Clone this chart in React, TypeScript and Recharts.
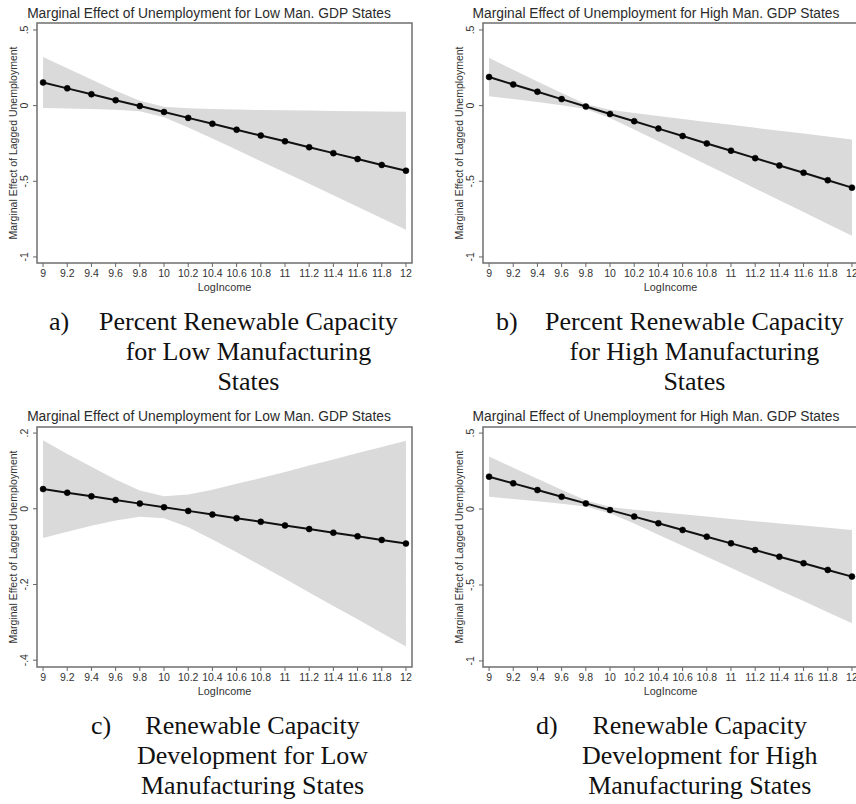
import React from "react";
import { ComposedChart, Area, Line, XAxis, YAxis, ReferenceArea } from "recharts";

// ---- data ----
const xs = [9, 9.2, 9.4, 9.6, 9.8, 10, 10.2, 10.4, 10.6, 10.8, 11, 11.2, 11.4, 11.6, 11.8, 12];
const xTickLabels = ["9", "9.2", "9.4", "9.6", "9.8", "10", "10.2", "10.4", "10.6", "10.8", "11", "11.2", "11.4", "11.6", "11.8", "12"];

// a) Percent Renewable Capacity, Low Manufacturing
const aEffect = [0.153, 0.114, 0.075, 0.036, -0.003, -0.042, -0.081, -0.12, -0.159, -0.198, -0.236, -0.275, -0.314, -0.353, -0.392, -0.43];
const aUpper = [0.322, 0.247, 0.172, 0.099, 0.032, -0.007, -0.018, -0.023, -0.026, -0.029, -0.03, -0.033, -0.035, -0.037, -0.039, -0.04];
const aLower = [-0.016, -0.019, -0.022, -0.027, -0.038, -0.077, -0.144, -0.217, -0.292, -0.367, -0.442, -0.517, -0.593, -0.669, -0.745, -0.82];

// b) Percent Renewable Capacity, High Manufacturing
const bEffect = [0.189, 0.14, 0.092, 0.043, -0.006, -0.055, -0.103, -0.152, -0.201, -0.25, -0.298, -0.347, -0.396, -0.444, -0.493, -0.542];
const bUpper = [0.316, 0.237, 0.16, 0.083, 0.011, -0.028, -0.049, -0.069, -0.089, -0.109, -0.127, -0.147, -0.166, -0.185, -0.204, -0.224];
const bLower = [0.062, 0.043, 0.024, 0.003, -0.023, -0.082, -0.157, -0.235, -0.313, -0.391, -0.469, -0.547, -0.626, -0.703, -0.782, -0.86];

// c) Renewable Capacity Development, Low Manufacturing
const cEffect = [0.052, 0.0424, 0.0328, 0.0232, 0.0136, 0.004, -0.0056, -0.0152, -0.0248, -0.0344, -0.044, -0.0536, -0.0632, -0.0728, -0.0824, -0.092];
const cUpper = [0.181, 0.145, 0.111, 0.077, 0.048, 0.033, 0.038, 0.05, 0.066, 0.081, 0.097, 0.114, 0.13, 0.147, 0.163, 0.18];
const cLower = [-0.077, -0.061, -0.045, -0.031, -0.021, -0.025, -0.049, -0.081, -0.115, -0.15, -0.185, -0.221, -0.257, -0.292, -0.328, -0.364];

// d) Renewable Capacity Development, High Manufacturing
const dEffect = [0.213, 0.169, 0.125, 0.081, 0.037, -0.007, -0.05, -0.094, -0.138, -0.182, -0.226, -0.27, -0.314, -0.357, -0.401, -0.445];
const dUpper = [0.345, 0.272, 0.2, 0.127, 0.058, 0.014, -0.004, -0.02, -0.035, -0.05, -0.065, -0.08, -0.095, -0.108, -0.123, -0.138];
const dLower = [0.081, 0.066, 0.051, 0.035, 0.016, -0.028, -0.096, -0.169, -0.241, -0.314, -0.387, -0.46, -0.534, -0.606, -0.679, -0.752];

const yTicksWide = [-1, -0.5, 0, 0.5];
const yTickLabelsWide = ["-1", "-.5", "0", ".5"];
const yTicksNarrow = [-0.4, -0.2, 0, 0.2];
const yTickLabelsNarrow = ["-.4", "-.2", "0", ".2"];

const titleLow = "Marginal Effect of Unemployment for Low Man. GDP States";
const titleHigh = "Marginal Effect of Unemployment for High Man. GDP States";
const yLabel = "Marginal Effect of Lagged Unemployment";
const xLabel = "LogIncome";

const SANS = "'Liberation Sans', Arial, Helvetica, sans-serif";
const SERIF = "'Liberation Serif', 'Times New Roman', Times, serif";

const X_DOMAIN: [number, number] = [8.95, 12.05];

function build(e: number[], up: number[], lo: number[]) {
  return xs.map((x, i) => ({ x, effect: e[i], band: [lo[i], up[i]] }));
}

type PanelProps = {
  left: number;
  top: number;
  width: number;
  plotLeft: number;
  plotTop: number;
  data: any[];
  yDomain: [number, number];
  yTicks: number[];
  yTickLabels: string[];
  title: string;
  titleX: number;
};

function Panel(p: PanelProps) {
  const plotW = 375;
  const plotH = 240;
  const H = 300;
  const xAxisH = 30;
  const margin = {
    top: p.plotTop,
    right: p.width - p.plotLeft - plotW,
    bottom: H - (p.plotTop + plotH) - xAxisH,
    left: 0,
  };
  const yTick = (props: any) => {
    const { x, y, payload } = props;
    const idx = p.yTicks.indexOf(payload.value);
    const label = idx >= 0 ? p.yTickLabels[idx] : String(payload.value);
    return (
      <text
        x={x}
        y={y}
        transform={`rotate(-90 ${x} ${y})`}
        textAnchor="middle"
        fontSize={10.5}
        fontFamily={SANS}
        fill="#333"
      >
        {label}
      </text>
    );
  };
  const xTickFmt = (v: number) => {
    const idx = xs.indexOf(v);
    return idx >= 0 ? xTickLabels[idx] : String(v);
  };
  const plotCx = p.plotLeft + plotW / 2;
  const plotCy = p.plotTop + plotH / 2;
  return (
    <div style={{ position: "absolute", left: p.left, top: p.top, width: p.width, height: H }}>
      <div
        style={{
          position: "absolute",
          left: p.titleX - p.left - 250,
          top: -p.top + (p.top === 0 ? 5 : 408),
          width: 500,
          textAlign: "center",
          fontFamily: SANS,
          fontSize: 13.8,
          lineHeight: "17px",
          color: "#2b2b2b",
          whiteSpace: "nowrap",
        }}
      >
        {p.title}
      </div>
      <ComposedChart width={p.width} height={H} data={p.data} margin={margin}>
        <XAxis
          dataKey="x"
          type="number"
          domain={X_DOMAIN}
          ticks={xs}
          interval={0}
          tickFormatter={xTickFmt}
          height={xAxisH}
          axisLine={false}
          tickLine={{ stroke: "#666", strokeWidth: 1 }}
          tickSize={4}
          tickMargin={3}
          tick={{ fontSize: 10.5, fill: "#333", fontFamily: SANS }}
          allowDataOverflow
        />
        <YAxis
          type="number"
          domain={p.yDomain}
          ticks={p.yTicks}
          interval={0}
          width={p.plotLeft}
          axisLine={false}
          tickLine={{ stroke: "#666", strokeWidth: 1 }}
          tickSize={4}
          tickMargin={5}
          tick={yTick}
          allowDataOverflow
        />
        <Area
          dataKey="band"
          type="linear"
          stroke="none"
          fill="#dadada"
          fillOpacity={1}
          isAnimationActive={false}
          dot={false}
          activeDot={false}
        />
        <Line
          dataKey="effect"
          type="linear"
          stroke="#111"
          strokeWidth={2}
          dot={{ r: 3, fill: "#000", stroke: "#000", strokeWidth: 0.5 }}
          activeDot={false}
          isAnimationActive={false}
        />
        <ReferenceArea
          x1={X_DOMAIN[0]}
          x2={X_DOMAIN[1]}
          y1={p.yDomain[0]}
          y2={p.yDomain[1]}
          fill="none"
          stroke="#6f6f6f"
          strokeWidth={1.5}
          ifOverflow="visible"
        />
      </ComposedChart>
      <div
        style={{
          position: "absolute",
          left: p.plotLeft - 24 - 100,
          top: plotCy - 6,
          width: 200,
          height: 12,
          lineHeight: "12px",
          textAlign: "center",
          fontFamily: SANS,
          fontSize: 10.5,
          color: "#333",
          transform: "rotate(-90deg)",
          whiteSpace: "nowrap",
        }}
      >
        {yLabel}
      </div>
      <div
        style={{
          position: "absolute",
          left: plotCx - 50,
          top: p.plotTop + plotH + 18,
          width: 100,
          textAlign: "center",
          fontFamily: SANS,
          fontSize: 10.8,
          lineHeight: "12px",
          color: "#333",
        }}
      >
        {xLabel}
      </div>
    </div>
  );
}

function Caption({ tag, tagX, textX, top, lines }: { tag: string; tagX: number; textX: number; top: number; lines: string[] }) {
  const st: React.CSSProperties = {
    position: "absolute",
    top,
    fontFamily: SERIF,
    fontSize: 26,
    lineHeight: "30px",
    color: "#111",
    whiteSpace: "nowrap",
  };
  return (
    <>
      <div style={{ ...st, left: tagX }}>{tag}</div>
      <div style={{ ...st, left: textX, display: "inline-block", textAlign: "center" }}>
        {lines.map((l, i) => (
          <div key={i}>{l}</div>
        ))}
      </div>
    </>
  );
}

export default function App() {
  return (
    <div
      style={{
        position: "absolute",
        left: 0,
        top: 0,
        width: 856,
        height: 804,
        overflow: "hidden",
        background: "#fff",
      }}
    >
      <Panel left={0} top={0} width={430} plotLeft={37} plotTop={23} data={build(aEffect, aUpper, aLower)}
        yDomain={[-1.04, 0.546]} yTicks={yTicksWide} yTickLabels={yTickLabelsWide} title={titleLow} titleX={209} />
      <Panel left={426} top={0} width={450} plotLeft={57} plotTop={23} data={build(bEffect, bUpper, bLower)}
        yDomain={[-1.04, 0.546]} yTicks={yTicksWide} yTickLabels={yTickLabelsWide} title={titleHigh} titleX={656} />
      <Panel left={0} top={400} width={430} plotLeft={37} plotTop={27} data={build(cEffect, cUpper, cLower)}
        yDomain={[-0.418, 0.216]} yTicks={yTicksNarrow} yTickLabels={yTickLabelsNarrow} title={titleLow} titleX={209} />
      <Panel left={426} top={400} width={450} plotLeft={57} plotTop={27} data={build(dEffect, dUpper, dLower)}
        yDomain={[-1.04, 0.54]} yTicks={yTicksWide} yTickLabels={yTickLabelsWide} title={titleHigh} titleX={656} />

      <Caption tag="a)" tagX={49} textX={99} top={307}
        lines={["Percent Renewable Capacity", "for Low Manufacturing", "States"]} />
      <Caption tag="b)" tagX={496} textX={545} top={307}
        lines={["Percent Renewable Capacity", "for High Manufacturing", "States"]} />
      <Caption tag="c)" tagX={91} textX={137} top={711}
        lines={["Renewable Capacity", "Development for Low", "Manufacturing States"]} />
      <Caption tag="d)" tagX={536} textX={582} top={711}
        lines={["Renewable Capacity", "Development for High", "Manufacturing States"]} />
    </div>
  );
}
